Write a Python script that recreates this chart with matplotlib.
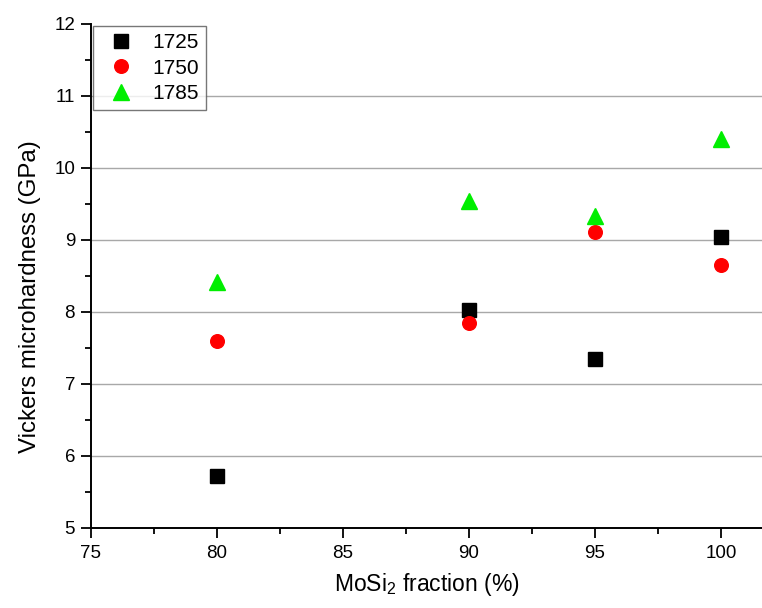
import matplotlib
matplotlib.use("Agg")
import matplotlib.pyplot as plt
from matplotlib.ticker import MultipleLocator

plt.rcParams['font.family'] = ['Liberation Sans', 'DejaVu Sans']
plt.rcParams['mathtext.fontset'] = 'custom'
plt.rcParams['mathtext.rm'] = 'Liberation Sans'
plt.rcParams['mathtext.default'] = 'regular'

fraction = [80, 90, 95, 100]
hv_1725 = [5.72, 8.03, 7.35, 9.04]
hv_1750 = [7.60, 7.85, 9.11, 8.65]
hv_1785 = [8.42, 9.54, 9.33, 10.40]
labels = ['1725', '1750', '1785']
xticks = [75, 80, 85, 90, 95, 100]
yticks = [5, 6, 7, 8, 9, 10, 11, 12]

fig = plt.figure(figsize=(7.62, 6.08), dpi=100)
ax = fig.add_axes([91/762, 80/608, 671/762, 504/608])

for y in yticks[1:-1]:
    ax.axhline(y, color='#a8a8a8', lw=1.0, zorder=1)

ax.plot(fraction, hv_1725, 's', color='black', ms=9.5, label=labels[0], zorder=3)
ax.plot(fraction, hv_1750, 'o', color='#ff0000', ms=9.8, label=labels[1], zorder=3)
ax.plot(fraction, hv_1785, '^', color='#00ee00', ms=11, label=labels[2], zorder=3)

ax.set_xlim(75, 101.63)
ax.set_ylim(5, 12)
ax.set_xticks(xticks)
ax.set_yticks(yticks)
ax.xaxis.set_minor_locator(MultipleLocator(2.5))
ax.yaxis.set_minor_locator(MultipleLocator(0.5))
ax.spines['top'].set_visible(False)
ax.spines['right'].set_visible(False)
ax.spines['left'].set_linewidth(1.4)
ax.spines['bottom'].set_linewidth(1.4)
ax.tick_params(which='major', direction='out', length=7.5, width=1.3, labelsize=13.5, pad=4)
ax.tick_params(axis='x', which='major', pad=5)
ax.tick_params(which='minor', direction='out', length=4, width=1.3)

ax.set_xlabel('MoSi$_2$ fraction (%)', fontsize=16.5, labelpad=6)
ax.set_ylabel('Vickers microhardness (GPa)', fontsize=17.3)
ax.yaxis.set_label_coords(-0.075, 0.46)

leg = ax.legend(loc='upper left', bbox_to_anchor=(0.0, 1.0), fontsize=15, frameon=True,
                fancybox=False, borderaxespad=0.1, handletextpad=0.5, labelspacing=0.3,
                borderpad=0.35, handlelength=2.0)
leg.get_frame().set_edgecolor('#555555')
leg.get_frame().set_linewidth(1.0)

fig.savefig('out.png', dpi=100)
